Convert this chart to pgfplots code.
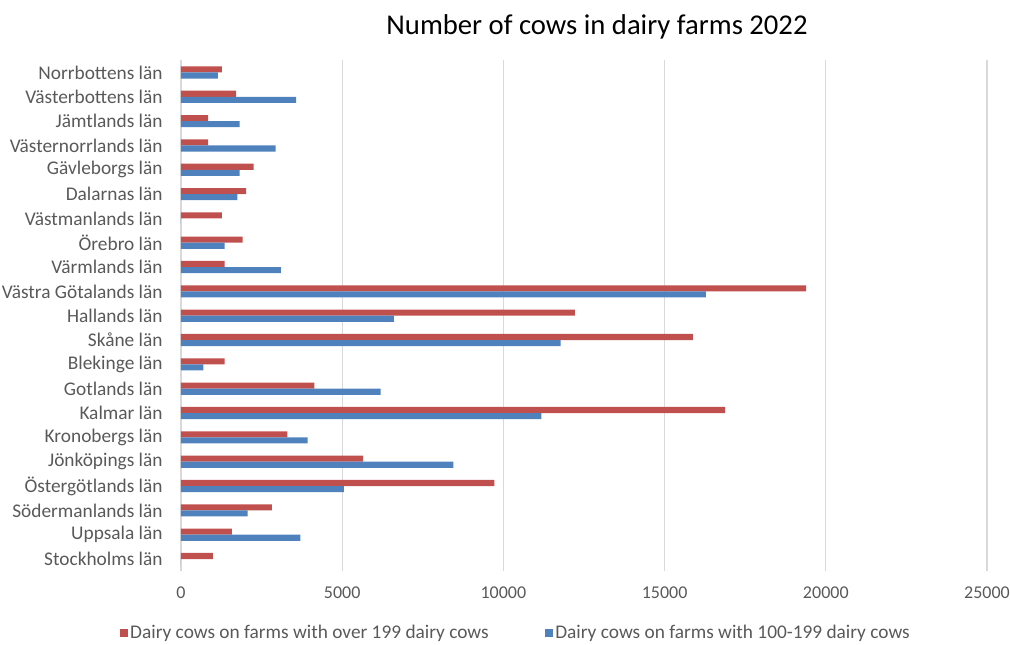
\documentclass[border=0pt]{standalone}
\usepackage{pgfplots}
\pgfplotsset{compat=1.18}
\usepackage{fontspec}
\setmainfont{Carlito}
\definecolor{cred}{RGB}{192,80,77}
\definecolor{cblue}{RGB}{79,129,189}
\definecolor{cgrid}{RGB}{217,217,217}
\definecolor{ctext}{RGB}{89,89,89}
\begin{document}
\begin{tikzpicture}[x=0.75pt,y=0.75pt]
\useasboundingbox (0,0) rectangle (1010,644);
\node[font=\fontsize{21.5}{25}\selectfont, text=black] at (597,617) {Number of cows in dairy farms 2022};
\begin{axis}[
  at={(135.75pt,54.6pt)}, anchor=south west,
  scale only axis, width=604.5pt, height=383.2pt,
  xbar, bar width=0.25,
  xmin=0, xmax=25000, ymin=-0.5, ymax=20.5,
  xtick={0,5000,10000,15000,20000,25000},
  ytick={0,...,20},
  yticklabels={Stockholms län, Uppsala län, Södermanlands län, Östergötlands län, Jönköpings län, Kronobergs län, Kalmar län, Gotlands län, Blekinge län, Skåne län, Hallands län, Västra Götalands län, Värmlands län, Örebro län, Västmanlands län, Dalarnas län, Gävleborgs län, Västernorrlands län, Jämtlands län, Västerbottens län, Norrbottens län},
  xmajorgrids, grid style={cgrid, line width=0.8pt},
  axis line style={draw=none}, major tick style={draw=none},
  scaled x ticks=false,
  /pgf/number format/1000 sep={},
  /pgf/number format/assume math mode=true,
  ticklabel style={text=ctext},
  xticklabel style={yshift=-8.5pt, font=\fontsize{13.5}{16}\selectfont},
  yticklabel style={xshift=-6pt, font=\fontsize{14.5}{17}\selectfont},
  legend columns=2,
  legend style={at={(0.4156,-0.121)}, anchor=center, draw=none, fill=none,
    font=\fontsize{14.5}{17}\selectfont, text=ctext,
    /tikz/every even column/.append style={column sep=40pt}},
  legend image code/.code={\fill[#1] (0pt,-3pt) rectangle (6pt,3pt);},
]
\addplot[fill=cred, draw=none, bar shift=0.125] coordinates {
(985,0) (1580,1) (2820,2) (9720,3) (5650,4) (3300,5) (16880,6) (4140,7) (1350,8) (15880,9) (12220,10) (19390,11) (1350,12) (1910,13) (1265,14) (2020,15) (2250,16) (840,17) (840,18) (1710,19) (1270,20)};
\addlegendentry{Dairy cows on farms with over 199 dairy cows}
\addplot[fill=cblue, draw=none, bar shift=-0.125] coordinates {
(0,0) (3700,1) (2065,2) (5050,3) (8445,4) (3930,5) (11180,6) (6195,7) (695,8) (11775,9) (6600,10) (16280,11) (3100,12) (1350,13) (0,14) (1745,15) (1815,16) (2935,17) (1815,18) (3570,19) (1140,20)};
\addlegendentry{Dairy cows on farms with 100-199 dairy cows}
\end{axis}
\end{tikzpicture}
\end{document}
